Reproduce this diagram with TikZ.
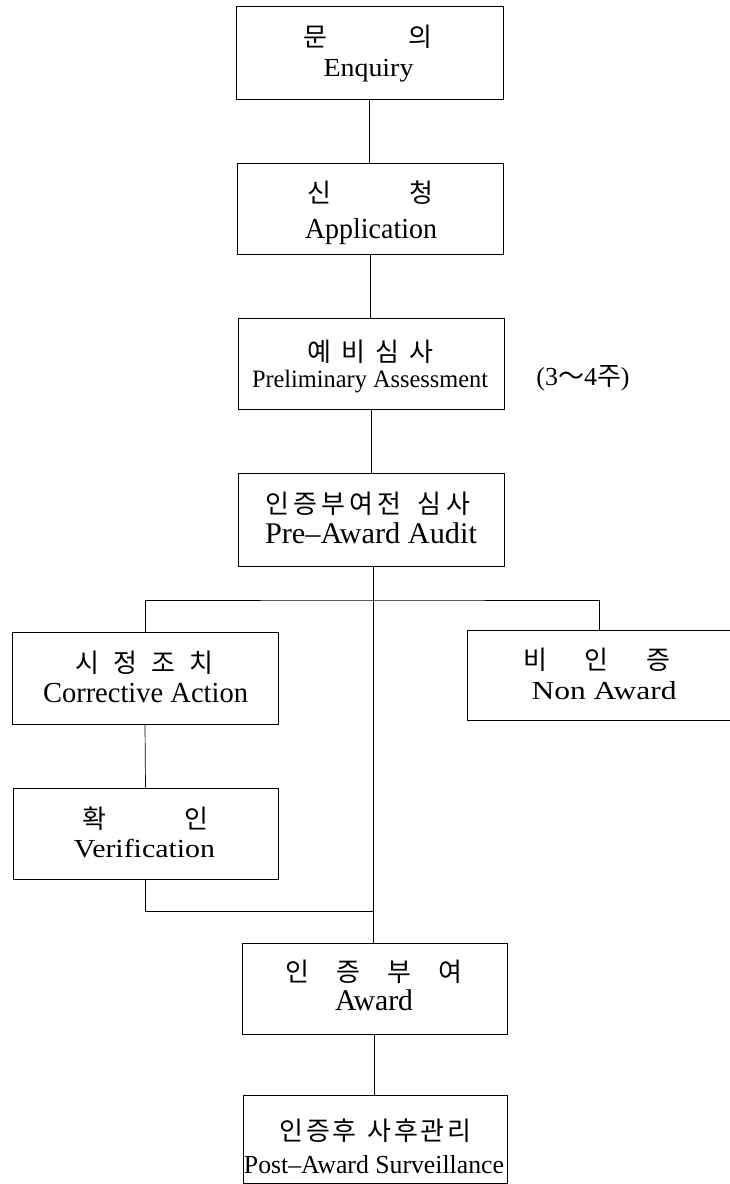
\documentclass[tikz,border=0pt]{standalone}
\usepackage{fontspec}
\usepackage{graphicx}
\setmainfont{Liberation Serif}
\newfontfamily\kr{Noto Sans CJK KR}
\newcommand{\fitw}[2]{\resizebox{#1}{\height}{#2}}
\newcommand{\gp}{\hfill{}}
\tikzset{
  box/.style={draw, line width=0.9pt, inner sep=0pt},
  link/.style={line width=0.7pt},
  ko/.style={font=\kr\fontsize{26}{26}\selectfont, inner sep=0pt, anchor=center},
  en/.style={inner sep=0pt, anchor=base},
}
\begin{document}
\begin{tikzpicture}[x=1pt,y=-1pt]
\useasboundingbox (0,0) rectangle (729,1184);
% boxes
\node[box, minimum width=267pt, minimum height=93pt] (b1) at (369.5,52.5) {};
\node[box, minimum width=266pt, minimum height=91pt] (b2) at (370,208.5) {};
\node[box, minimum width=266pt, minimum height=91pt] (b3) at (371,363.5) {};
\node[box, minimum width=266pt, minimum height=93pt] (b4) at (371,519.5) {};
\node[box, minimum width=266pt, minimum height=92pt] (b5) at (145,678) {};
\node[box, minimum width=264pt, minimum height=90pt] (b6) at (599,675) {};
\node[box, minimum width=265pt, minimum height=91pt] (b7) at (145.5,833.5) {};
\node[box, minimum width=265pt, minimum height=91pt] (b8) at (374.5,988.5) {};
\node[box, minimum width=264pt, minimum height=88pt] (b9) at (375,1139) {};
% korean lines
\node[ko] (k1) at (367.5,37) {\makebox[129pt][s]{문\gp 의}};
\node[ko] (k2) at (370,193) {\makebox[126pt][s]{신\gp 청}};
\node[ko] (k3) at (370,352) {\makebox[126pt][s]{예\gp 비\gp 심\gp 사}};
\node[ko] (k4) at (367.5,504) {\makebox[205pt][s]{인\gp 증\gp 부\gp 여\gp 전\gp\gp\gp\gp 심\gp 사}};
\node[ko] (k5) at (144,663) {\makebox[138pt][s]{시\gp 정\gp 조\gp 치}};
\node[ko] (k6) at (596.5,660) {\makebox[147pt][s]{비\gp 인\gp 증}};
\node[ko] (k7) at (145,819) {\makebox[126pt][s]{확\gp 인}};
\node[ko] (k8) at (373.5,972) {\makebox[177pt][s]{인\gp 증\gp 부\gp 여}};
\node[ko] (k9) at (375.5,1131) {\makebox[192pt][s]{인\gp 증\gp 후\gp\gp\gp\gp 사\gp 후\gp 관\gp 리}};
% english lines
\node[en, font=\fontsize{26}{26}\selectfont] (e1) at (368.5,76) {\fitw{90pt}{Enquiry}};
\node[en, font=\fontsize{29}{29}\selectfont] (e2) at (371,238) {\fitw{132pt}{Application}};
\node[en, font=\fontsize{25}{25}\selectfont] (e3) at (370,387) {\fitw{236pt}{Preliminary Assessment}};
\node[en, font=\fontsize{30}{30}\selectfont] (e4) at (371,543) {\fitw{212pt}{Pre--Award Audit}};
\node[en, font=\fontsize{29}{29}\selectfont] (e5) at (145.5,702) {\fitw{205pt}{Corrective Action}};
\node[en, font=\fontsize{26}{26}\selectfont] (e6) at (604,699) {\fitw{145pt}{Non Award}};
\node[en, font=\fontsize{26}{26}\selectfont] (e7) at (144.5,857) {\fitw{141pt}{Verification}};
\node[en, font=\fontsize{30}{30}\selectfont] (e8) at (374,1010) {\fitw{78pt}{Award}};
\node[en, font=\fontsize{26}{26}\selectfont] (e9) at (374,1173) {\fitw{260pt}{Post--Award Surveillance}};
% duration note
\node[inner sep=0pt, font=\fontsize{26}{26}\selectfont] (dur) at (583,378) {(3{\kr ～}4{\kr 주})};
% connectors
\coordinate (split) at (373,600);
\coordinate (merge) at (373,911);
\draw[link] (b1.south) -- (b1.south |- b2.north);
\draw[link] (b2.south) -- (b2.south |- b3.north);
\draw[link] (b3.south) -- (b3.south |- b4.north);
\draw[link] (split |- b4.south) -- (split |- b8.north);
\draw[link] (b5.north) |- (split) -| (b6.north);
\draw[link] (b5.south) -- (b7.north);
\draw[link] (b7.south) |- (merge);
\draw[link] (b8.south) -- (b8.south |- b9.north);
\end{tikzpicture}
\end{document}
